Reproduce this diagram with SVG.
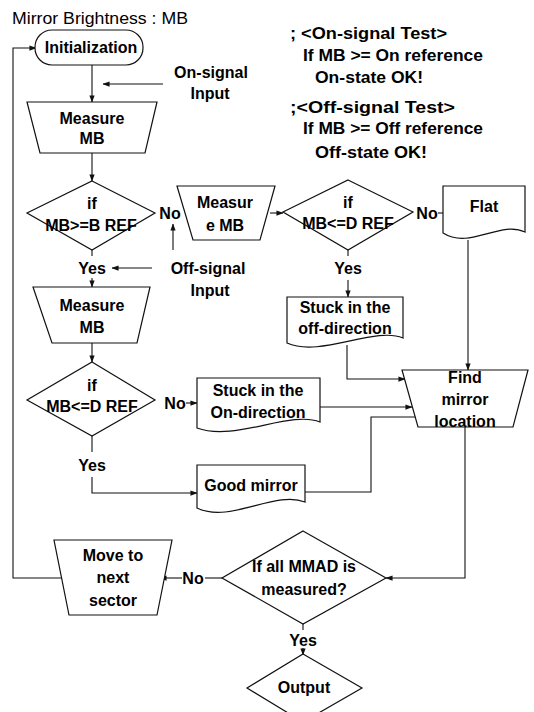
<svg xmlns="http://www.w3.org/2000/svg" width="534" height="712" viewBox="0 0 534 712">
<defs>
<marker id="ah" viewBox="0 0 8 8" refX="7.5" refY="4" markerWidth="7" markerHeight="7" orient="auto" markerUnits="userSpaceOnUse"><path d="M0,1 L8,4 L0,7 z" fill="#111"/></marker>
<style>
.s{fill:#fff;stroke:#111;stroke-width:1.2}
.c{fill:none;stroke:#111;stroke-width:1.1}
.a{marker-end:url(#ah)}
text{font-family:"Liberation Sans",Arial,sans-serif;font-size:16px;font-weight:bold;fill:#000}
.m{text-anchor:middle}
.t{font-weight:normal;font-size:17px}
.n{font-size:17px}
</style>
</defs>
<rect width="534" height="712" fill="#fff"/>
<g id="title"><text class="t" x="12" y="24" textLength="176" lengthAdjust="spacingAndGlyphs">Mirror Brightness : MB</text></g>
<g id="notes">
<text class="n" x="290" y="39" textLength="157" lengthAdjust="spacingAndGlyphs">; &lt;On-signal Test&gt;</text>
<text class="n" x="303" y="61" textLength="180" lengthAdjust="spacingAndGlyphs">If MB &gt;= On reference</text>
<text class="n" x="315" y="83" textLength="108" lengthAdjust="spacingAndGlyphs">On-state OK!</text>
<text class="n" x="290" y="113" textLength="165" lengthAdjust="spacingAndGlyphs">;&lt;Off-signal Test&gt;</text>
<text class="n" x="303" y="134" textLength="180" lengthAdjust="spacingAndGlyphs">If MB &gt;= Off reference</text>
<text class="n" x="315" y="158" textLength="112" lengthAdjust="spacingAndGlyphs">Off-state OK!</text>
</g>
<g id="connectors">
<path class="c a" d="M69,578 H13 V48 H36"/>
<path class="c a" d="M92,65 V102"/>
<path class="c a" d="M163,84 H103"/>
<path class="c a" d="M92,153 V181"/>
<path class="c a" d="M173,250 V224"/>
<path class="c" d="M92,250 V256"/>
<path class="c a" d="M92,278 V287"/>
<path class="c a" d="M152,268 H112"/>
<path class="c a" d="M270,213 H283"/>
<path class="c" d="M438,213 H443"/>
<path class="c" d="M348,250 V256"/>
<path class="c a" d="M348,280 V297"/>
<path class="c a" d="M468,240 V370"/>
<path class="c a" d="M347,345 V379 H405"/>
<path class="c a" d="M92,343 V362"/>
<path class="c a" d="M186,403 H197"/>
<path class="c a" d="M320,407 H412"/>
<path class="c" d="M92,436 V452"/>
<path class="c a" d="M92,477 V493 H197"/>
<path class="c" d="M305,492 H371 V417 H416"/>
<path class="c a" d="M465,427 V578 H386"/>
<path class="c" d="M222,578 H205"/>
<path class="c a" d="M182,578 H160"/>
<path class="c" d="M303,624 V630"/>
<path class="c a" d="M303,648 V655"/>
</g>
<g id="initialization"><rect class="s" x="35" y="30" width="108" height="35" rx="17"/><text class="m" x="91" y="53">Initialization</text></g>
<g id="on-signal-input"><text class="m" x="211" y="78">On-signal</text><text class="m" x="210" y="99">Input</text></g>
<g id="measure1"><polygon class="s" points="27,102 157,102 145,153 40,153"/><text class="m" x="92" y="124">Measure</text><text class="m" x="92" y="144">MB</text></g>
<g id="decision1"><polygon class="s" points="92,181 155,213 92,250 27,213"/><text class="m" x="92" y="209">if</text><text class="m" x="91" y="231">MB&gt;=B REF</text></g>
<g id="labels1"><text class="m" x="170" y="219">No</text><text class="m" x="92" y="274">Yes</text></g>
<g id="off-signal-input"><text class="m" x="208" y="274">Off-signal</text><text class="m" x="210" y="296">Input</text></g>
<g id="measure2"><polygon class="s" points="177,186 275,186 260,240 193,240"/><text class="m" x="225" y="208">Measur</text><text class="m" x="225" y="231">e MB</text></g>
<g id="decision2"><polygon class="s" points="348,180 413,212 348,250 283,212"/><text class="m" x="348" y="208">if</text><text class="m" x="348" y="229">MB&lt;=D REF</text></g>
<g id="labels2"><text class="m" x="427" y="219">No</text><text class="m" x="348" y="274">Yes</text></g>
<g id="flat"><path class="s" d="M443,186 H525 V232 C500,220 470,250 443,233 Z"/><text class="m" x="484" y="212">Flat</text></g>
<g id="stuck-off"><path class="s" d="M287,297 H403 V338 C375,326 320,358 287,343 Z"/><text class="m" x="345" y="313">Stuck in the</text><text class="m" x="345" y="334">off-direction</text></g>
<g id="measure3"><polygon class="s" points="33,287 150,287 137,343 52,343"/><text class="m" x="92" y="311">Measure</text><text class="m" x="92" y="333">MB</text></g>
<g id="decision3"><polygon class="s" points="92,362 155,400 92,436 27,400"/><text class="m" x="92" y="391">if</text><text class="m" x="92" y="412">MB&lt;=D REF</text></g>
<g id="labels3"><text class="m" x="175" y="409">No</text><text class="m" x="92" y="471">Yes</text></g>
<g id="stuck-on"><path class="s" d="M197,378 H320 V422 C290,410 235,442 197,428 Z"/><text class="m" x="258" y="396">Stuck in the</text><text class="m" x="258" y="418">On-direction</text></g>
<g id="good-mirror"><path class="s" d="M197,465 H305 V502 C275,490 230,524 197,508 Z"/><text class="m" x="251" y="491">Good mirror</text></g>
<g id="find-location"><polygon class="s" points="402,370 528,370 513,427 418,427"/><text class="m" x="465" y="383">Find</text><text class="m" x="465" y="405">mirror</text><text class="m" x="465" y="427">location</text></g>
<g id="decision4"><polygon class="s" points="303,531 386,578 303,624 222,578"/><text class="m" x="304" y="572">If all MMAD is</text><text class="m" x="304" y="595">measured?</text></g>
<g id="labels4"><text class="m" x="193" y="584">No</text><text class="m" x="303" y="646">Yes</text></g>
<g id="move-next"><polygon class="s" points="54,540 172,540 157,615 69,615"/><text class="m" x="113" y="561">Move to</text><text class="m" x="113" y="583">next</text><text class="m" x="113" y="606">sector</text></g>
<g id="output"><polygon class="s" points="303,654 362,688 303,722 247,688"/><text class="m" x="304" y="693">Output</text></g>
</svg>
